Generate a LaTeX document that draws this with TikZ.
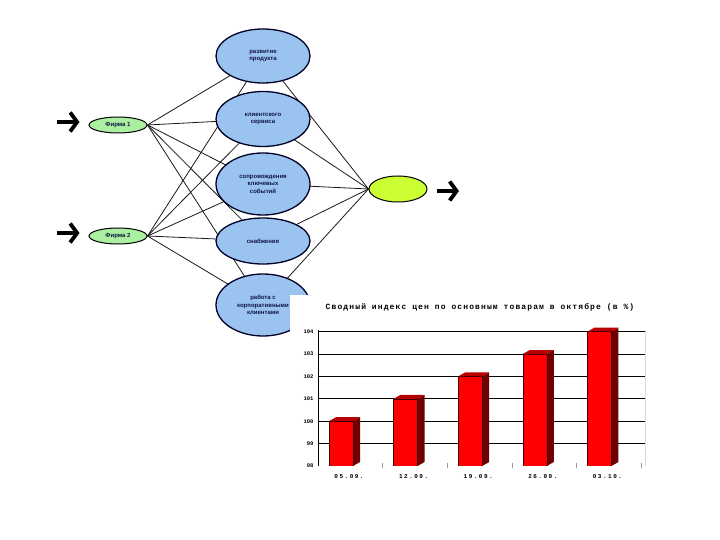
\documentclass[tikz,border=0pt]{standalone}
\usepackage{fontspec}
\setmainfont{Liberation Sans}
\newfontfamily\chartfont[LetterSpace=25]{Liberation Mono}
\newfontfamily\titlefont[LetterSpace=14]{Liberation Mono}
\newfontfamily\tickfont{Liberation Mono}
\usetikzlibrary{shapes.geometric,arrows.meta,calc,backgrounds}

\definecolor{goalblue}{RGB}{155,195,240}
\definecolor{firmgreen}{RGB}{170,240,160}
\definecolor{outlime}{RGB}{204,255,51}
\definecolor{barred}{RGB}{255,0,0}
\definecolor{bartop}{RGB}{185,0,0}
\definecolor{barside}{RGB}{110,0,0}
\definecolor{labelblue}{RGB}{15,20,70}

\tikzset{
  goal/.style={ellipse, draw=black!85!blue, line width=1.3pt, fill=goalblue,
    minimum width=94pt, inner sep=0pt, align=center,
    font=\fontsize{6}{7.5}\selectfont\bfseries, text=labelblue},
  firm/.style={ellipse, draw=black, line width=1pt, fill=firmgreen,
    minimum width=58pt, minimum height=16pt, inner sep=0pt,
    font=\fontsize{6}{7}\selectfont\bfseries, text=labelblue},
  link/.style={black!90, line width=0.8pt},
  bigarrow/.style={line width=3.8pt, -{Straight Barb[length=7pt,width=19pt]}},
}

\begin{document}
\begin{tikzpicture}[x=1pt,y=-1pt]
  \useasboundingbox (0,0) rectangle (720,540);

  % goals
  \node[goal, minimum height=54pt] (b1) at (263,56) {развитие\\продукта};
  \node[goal, minimum height=55pt] (b2) at (263,119) {клиентского\\сервиса};
  \node[goal, minimum height=62pt] (b3) at (263,184) {сопровождения\\ключевых\\событий};
  \node[goal, minimum height=46pt] (b4) at (263,241) {снабжения};
  \node[goal, minimum height=62pt] (b5) at (263,305) {работа с\\корпоративными\\клиентами};

  % firms and result
  \node[firm] (f1) at (118,125) {Фирма 1};
  \node[firm] (f2) at (118,236) {Фирма 2};
  \node[ellipse, draw=black, line width=1pt, fill=outlime, minimum width=58pt,
    minimum height=26pt, inner sep=0pt] (res) at (398,189) {};

  \coordinate (in1) at (57,122);
  \coordinate (in2) at (57,233);
  \coordinate (out) at (459,191);

  \begin{scope}[on background layer]
    \foreach \g in {b1,b2,b3,b4,b5} {
      \draw[link] (f1.east) -- (\g.center);
      \draw[link] (f2.east) -- (\g.center);
      \draw[link] (\g.center) -- (res.west);
    }
  \end{scope}

  \draw[bigarrow] (in1) -- ($(f1.west)+(-9,-3)$);
  \draw[bigarrow] (in2) -- ($(f2.west)+(-9,-3)$);
  \draw[bigarrow] ($(res.east)+(9,2)$) -- (out);

  % chart
  \fill[white] (290,295) rectangle (664,494);
  \node[font=\titlefont\fontsize{8}{9}\selectfont\bfseries] (title) at (480,307)
    {Сводный индекс цен по основным товарам в октябре (в \%)};
  \foreach \v in {99,...,104}
    \draw[black, line width=0.8pt] (318,{466-(\v-98)*22.4}) -- (645,{466-(\v-98)*22.4});
  \foreach \v in {98,...,104}
    \node[font=\tickfont\fontsize{5.5}{6}\selectfont\bfseries, anchor=east] at (317,{466-(\v-98)*22.4}) {\v};
  \draw[black, line width=0.8pt] (318,330) -- (318,466);
  \draw[black!15, line width=0.6pt] (645,330) -- (645,466);
  \foreach \k in {1,...,5}
    \draw[black!40, line width=0.5pt] ({318+64.6*\k},463) -- ({318+64.6*\k},468);
  \foreach \i/\v/\d in {0/100/05.09.,1/101/12.09.,2/102/19.09.,3/103/26.09.,4/104/03.10.} {
    \pgfmathsetmacro{\bx}{329+64.6*\i}
    \pgfmathsetmacro{\by}{466-(\v-98)*22.4}
    \fill[barred] (\bx,466) rectangle (\bx+24,\by);
    \fill[barside] (\bx+24,466) -- (\bx+31,462) -- (\bx+31,\by-4) -- (\bx+24,\by) -- cycle;
    \fill[bartop] (\bx,\by) -- (\bx+7,\by-4) -- (\bx+31,\by-4) -- (\bx+24,\by) -- cycle;
    \draw[barside!60!black, line width=0.4pt] (\bx,466) -- (\bx,\by) -- (\bx+24,\by) -- (\bx+24,466);
    \node[font=\chartfont\fontsize{6}{7}\selectfont\bfseries] (d\i) at (\bx+20,477) {\d};
  }
\end{tikzpicture}
\end{document}
